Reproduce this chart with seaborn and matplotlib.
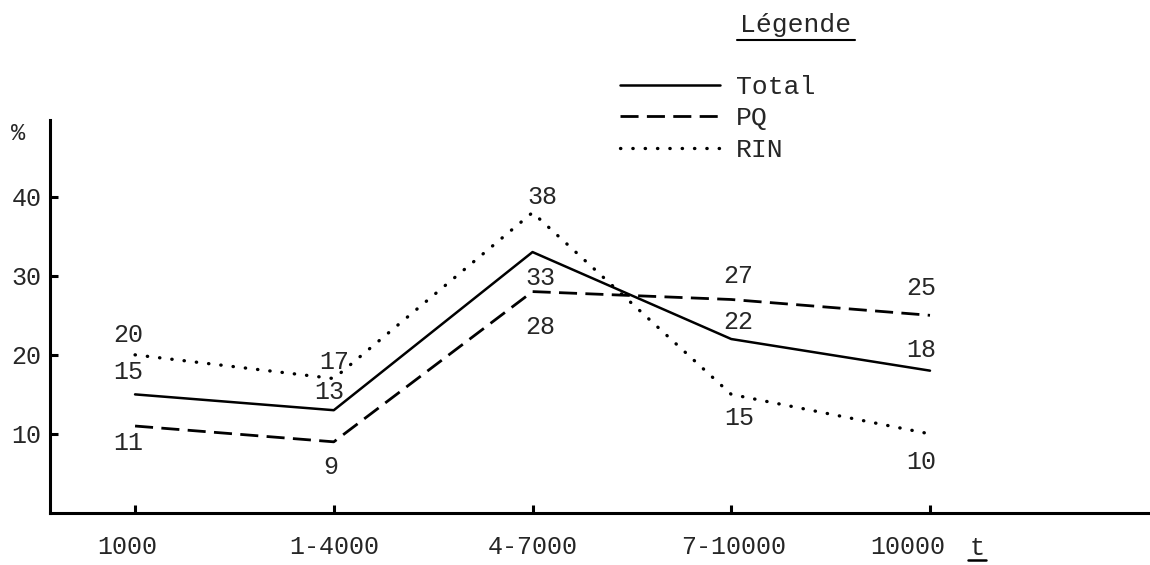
import numpy as np
import pandas as pd
import seaborn as sns
import matplotlib.pyplot as plt
from matplotlib.lines import Line2D
from matplotlib.transforms import ScaledTranslation

# data
categories = ["1000", "1-4000", "4-7000", "7-10000", "10000"]
total = [15, 13, 33, 22, 18]
pq = [11, 9, 28, 27, 25]
rin = [20, 17, 38, 15, 10]
series_names = ["Total", "PQ", "RIN"]
y_ticks = [10, 20, 30, 40]

# where each value label sits relative to its point (pixels, dy up)
label_offsets = {
    "Total": [(-7, 22), (-5, 18), (8, -26), (7, 17), (-9, 21)],
    "PQ": [(-7, -17), (-3, -25), (8, -35), (7, 23), (-9, 27)],
    "RIN": [(-7, 20), (0, 17), (10, 16), (8, -24), (-9, -28)],
}
# the typed x labels are not quite centred under their ticks
xlabel_shift = [-8, 0, 0, 2, -22]

df = pd.DataFrame({
    "pos": np.tile(np.arange(len(categories)), 3),
    "pct": total + pq + rin,
    "serie": np.repeat(series_names, len(categories)),
})

sns.set_style("white")
plt.rcParams["font.family"] = ["Liberation Mono", "DejaVu Sans Mono"]

W, H = 1150, 565
fig = plt.figure(figsize=(W / 100, H / 100), dpi=100)
ax = fig.add_axes([50 / W, 52 / H, 1100 / W, 393 / H])

sns.lineplot(data=df, x="pos", y="pct", style="serie", style_order=series_names,
             dashes={"Total": "", "PQ": (6.5, 3), "RIN": (0.1, 3.6)},
             color="black", linewidth=2, legend=False, sort=False, ax=ax)

for line, name in zip(ax.lines, series_names):
    if name == "Total":
        line.set_linewidth(1.8)
    elif name == "PQ":
        line.set_linewidth(2.0)
    else:
        line.set_linewidth(2.4)
        line.set_dash_capstyle("round")

# value labels
for name, vals in zip(series_names, [total, pq, rin]):
    for i, v in enumerate(vals):
        dx, dy = label_offsets[name][i]
        ax.annotate(str(v), (i, v), xytext=(dx, dy), textcoords="offset pixels",
                    ha="center", va="center", fontsize=18)

ax.set_xlim(-0.428, 5.107)
ax.set_ylim(0, 49.7)
ax.set_xticks(range(len(categories)))
ax.set_xticklabels(categories)
ax.set_yticks(y_ticks)
ax.set_xlabel("")
ax.set_ylabel("")
ax.tick_params(direction="in", length=6, width=2.2, labelsize=18, color="black",
               bottom=True, left=True)
ax.tick_params(axis="x", pad=16)
ax.tick_params(axis="y", pad=6)
for lbl, dx in zip(ax.get_xticklabels(), xlabel_shift):
    lbl.set_transform(lbl.get_transform() + ScaledTranslation(dx / 100, 0, fig.dpi_scale_trans))
sns.despine(ax=ax)
for s in ["left", "bottom"]:
    ax.spines[s].set_linewidth(2.2)
    ax.spines[s].set_color("black")

# legend block
ax.legend(handles=ax.lines[:3], labels=series_names, loc="upper left",
          bbox_to_anchor=(620 / W, 1 - 75 / H), bbox_transform=fig.transFigure,
          frameon=False, fontsize=19, handlelength=3.8, handletextpad=0.6,
          labelspacing=0.28, borderpad=0, borderaxespad=0)
fig.text(796 / W, 1 - 25 / H, "Légende", ha="center", va="center", fontsize=19)
fig.add_artist(Line2D([737 / W, 855 / W], [1 - 40 / H] * 2, color="black", lw=1.5))

fig.text(18 / W, 1 - 133 / H, "%", ha="center", va="center", fontsize=17)
fig.text(977 / W, 1 - 548 / H, "t", ha="center", va="center", fontsize=18)
fig.add_artist(Line2D([968 / W, 986 / W], [1 - 560 / H] * 2, color="black", lw=1.8))

fig.savefig("out.png", dpi=100)
